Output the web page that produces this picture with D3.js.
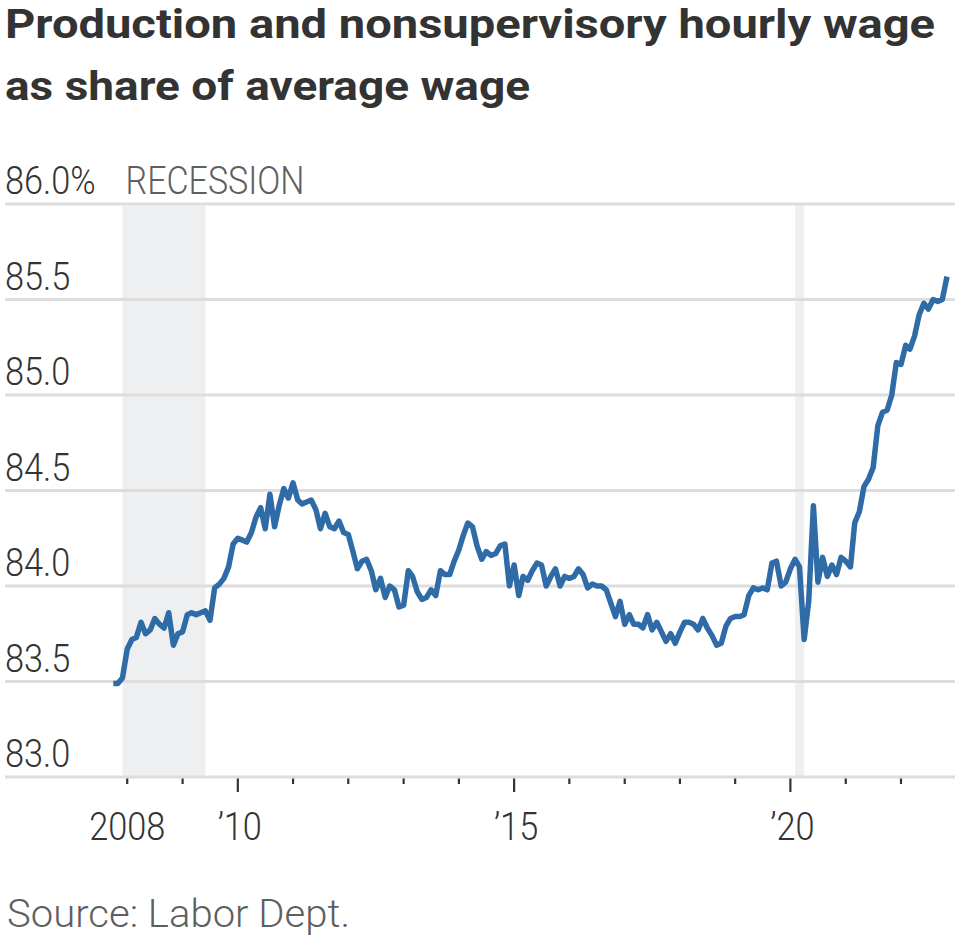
<!DOCTYPE html>
<html>
<head>
<meta charset="utf-8">
<script src="https://cdn.jsdelivr.net/npm/d3@7/dist/d3.min.js"></script>
<style>
  html, body { margin: 0; padding: 0; background: #ffffff; }
  svg { display: block; }
</style>
</head>
<body>
<svg id="chart" width="958" height="938"></svg>
<script>
// ---- Data ----
const titleLines = ["Production and nonsupervisory hourly wage", "as share of average wage"];
const sourceText = "Source: Labor Dept.";
const firstMonth = "2007-10";   // first monthly observation
const lastMonth  = "2022-11";   // last monthly observation
const shareValues = [
  83.49, 83.49, 83.52, 83.67, 83.72, 83.73, 83.81, 83.75, 83.77, 83.83, 83.80, 83.78,
  83.86, 83.69, 83.75, 83.76, 83.85, 83.86, 83.85, 83.86, 83.87, 83.82, 83.99, 84.01,
  84.04, 84.10, 84.22, 84.25, 84.24, 84.23, 84.28, 84.36, 84.41, 84.30, 84.48, 84.31,
  84.42, 84.51, 84.46, 84.54, 84.45, 84.43, 84.44, 84.45, 84.40, 84.30, 84.38, 84.31,
  84.30, 84.34, 84.28, 84.27, 84.18, 84.09, 84.13, 84.14, 84.08, 83.98, 84.04, 83.94,
  84.00, 83.98, 83.89, 83.90, 84.08, 84.05, 83.97, 83.93, 83.94, 83.98, 83.95, 84.08,
  84.06, 84.06, 84.13, 84.19, 84.27, 84.33, 84.31, 84.21, 84.14, 84.18, 84.16, 84.17,
  84.21, 84.22, 84.00, 84.11, 83.95, 84.05, 84.03, 84.08, 84.12, 84.11, 84.00, 84.05,
  84.09, 84.00, 84.05, 84.04, 84.05, 84.09, 84.06, 83.99, 84.01, 84.00, 84.00, 83.98,
  83.91, 83.84, 83.92, 83.80, 83.85, 83.80, 83.80, 83.78, 83.85, 83.77, 83.81, 83.76,
  83.71, 83.75, 83.70, 83.76, 83.81, 83.81, 83.80, 83.77, 83.83, 83.78, 83.74, 83.69,
  83.70, 83.79, 83.83, 83.84, 83.84, 83.85, 83.95, 83.99, 83.98, 83.99, 83.98, 84.12,
  84.13, 84.00, 84.02, 84.09, 84.14, 84.10, 83.72, 83.92, 84.42, 84.02, 84.15, 84.05,
  84.11, 84.06, 84.15, 84.13, 84.10, 84.33, 84.39, 84.52, 84.56, 84.62, 84.84, 84.91,
  84.92, 85.00, 85.17, 85.16, 85.26, 85.24, 85.31, 85.42, 85.48, 85.45, 85.50, 85.49,
  85.50, 85.62
];
const recessionStarts = ["2007-12", "2020-02"];
const recessionEnds   = ["2009-06", "2020-04"];
const recessionLabel = "RECESSION";
const yTickValues = [83.0, 83.5, 84.0, 84.5, 85.0, 85.5, 86.0];
const yTickLabels = ["83.0", "83.5", "84.0", "84.5", "85.0", "85.5", "86.0%"];
const xTickYears = [2008, 2009, 2010, 2011, 2012, 2013, 2014, 2015, 2016, 2017, 2018, 2019, 2020, 2021, 2022];
const xLabelYears = [2008, 2010, 2015, 2020];
const xLabelTexts = ["2008", "\u201910", "\u201915", "\u201920"];
const xMajorYears = [2010, 2015, 2020];

// ---- Layout ----
const plot = { left: 113.3, right: 947, top: 204, bottom: 777 };
const gridLeft = 5, gridRight = 955;
const lightFont = "Roboto, 'Noto Sans', sans-serif";
const boldFont = "Roboto, 'Noto Sans', sans-serif";
const ink = "#333333", grey = "#5f5f5f";

const parseMonth = d3.timeParse("%Y-%m");
const months = d3.timeMonth.range(parseMonth(firstMonth), d3.timeMonth.offset(parseMonth(lastMonth), 1));
const series = months.map((d, i) => ({ date: d, value: shareValues[i] }));

const x = d3.scaleTime()
  .domain([parseMonth(firstMonth), parseMonth(lastMonth)])
  .range([plot.left, plot.right]);
const y = d3.scaleLinear().domain([83, 86]).range([plot.bottom, plot.top]);

const svg = d3.select("#chart");

function squeeze(sel, factor) {
  sel.each(function () {
    const w = this.getComputedTextLength();
    d3.select(this).attr("textLength", w * factor).attr("lengthAdjust", "spacingAndGlyphs");
  });
}
function fitTo(sel, target) {
  const w = sel.node().getComputedTextLength();
  if (w > 0) sel.attr("textLength", target).attr("lengthAdjust", "spacingAndGlyphs");
}

// ---- Title ----
const title = svg.append("g");
const titleTargets = [930, 525];
titleLines.forEach((t, i) => {
  const tx = title.append("text")
    .attr("x", 5).attr("y", 38 + i * 62)
    .attr("font-family", boldFont).attr("font-weight", 700)
    .attr("font-size", 40).attr("fill", ink)
    .text(t);
  fitTo(tx, titleTargets[i]);
});

// ---- Recession bands ----
svg.append("g").selectAll("rect")
  .data(recessionStarts.map((s, i) => ({ s: parseMonth(s), e: parseMonth(recessionEnds[i]) })))
  .join("rect")
  .attr("x", d => x(d.s))
  .attr("width", d => Math.max(1, x(d.e) - x(d.s)))
  .attr("y", y(86) + 1.5)
  .attr("height", y(83) - y(86) - 1.5)
  .attr("fill", "#eeeff1");

// ---- Gridlines ----
svg.append("g").selectAll("line")
  .data(yTickValues)
  .join("line")
  .attr("x1", gridLeft).attr("x2", gridRight)
  .attr("y1", d => y(d)).attr("y2", d => y(d))
  .attr("stroke", "#dddddd").attr("stroke-width", 3);

// ---- Y labels ----
const yLab = svg.append("g").selectAll("text")
  .data(yTickValues)
  .join("text")
  .attr("x", 5).attr("y", d => y(d) - 10)
  .attr("font-family", lightFont).attr("font-weight", 300)
  .attr("font-size", 39).attr("fill", ink)
  .text((d, i) => yTickLabels[i]);
squeeze(yLab, 0.88);

// Recession label
const recText = svg.append("text")
  .attr("x", x(parseMonth(recessionStarts[0])) + 3).attr("y", y(86) - 10)
  .attr("font-family", lightFont).attr("font-weight", 300)
  .attr("font-size", 39).attr("fill", grey)
  .text(recessionLabel);
fitTo(recText, 179);

// ---- X axis ticks ----
const xAxis = svg.append("g");
xAxis.selectAll("line")
  .data(xTickYears)
  .join("line")
  .attr("x1", d => x(new Date(d, 0, 1))).attr("x2", d => x(new Date(d, 0, 1)))
  .attr("y1", plot.bottom + 1.5)
  .attr("y2", d => plot.bottom + (xMajorYears.includes(d) ? 15 : 7))
  .attr("stroke", ink).attr("stroke-width", 2.2);

const xLab = xAxis.selectAll("text")
  .data(xLabelYears)
  .join("text")
  .attr("x", d => x(new Date(d, 0, 1)) + (d === 2008 ? 0 : 2))
  .attr("y", 840)
  .attr("text-anchor", "middle")
  .attr("font-family", lightFont).attr("font-weight", 300)
  .attr("font-size", 39).attr("fill", ink)
  .text((d, i) => xLabelTexts[i]);
squeeze(xLab, 0.88);

// ---- Line ----
svg.append("path")
  .datum(series)
  .attr("fill", "none")
  .attr("stroke", "#2f6ba7")
  .attr("stroke-width", 5.5)
  .attr("stroke-linejoin", "round")
  .attr("d", d3.line().x(d => x(d.date)).y(d => y(d.value)));

// ---- Source ----
const src = svg.append("text")
  .attr("x", 7).attr("y", 927)
  .attr("font-family", lightFont).attr("font-weight", 300)
  .attr("font-size", 38).attr("fill", grey)
  .text(sourceText);
fitTo(src, 343);
</script>
</body>
</html>
